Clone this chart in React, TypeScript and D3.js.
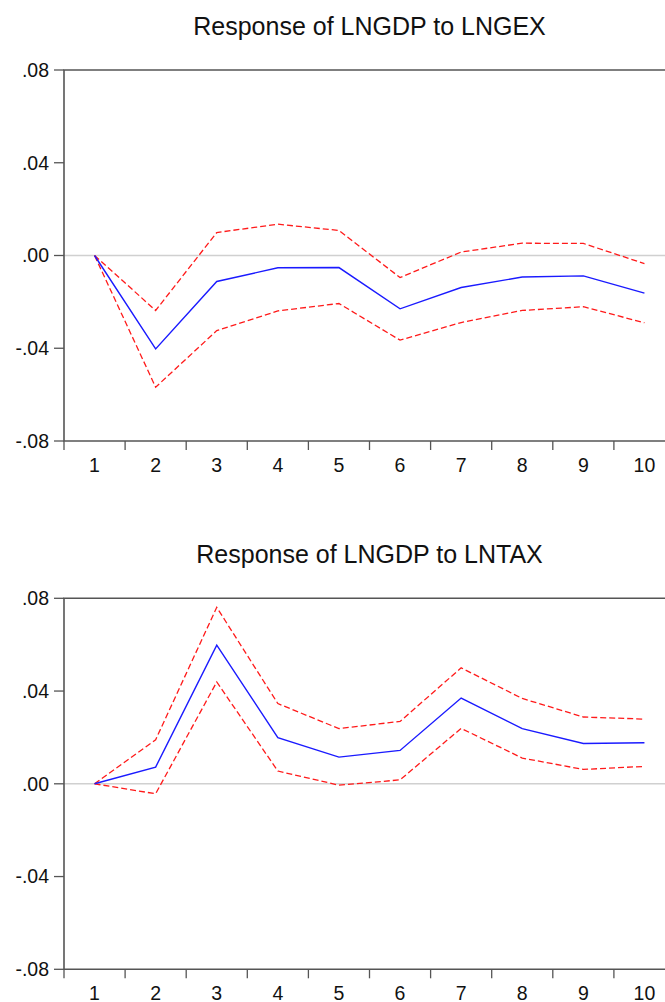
import React, { useEffect, useRef } from "react";
import * as d3 from "d3";

const periods = ["1", "2", "3", "4", "5", "6", "7", "8", "9", "10"];

// Response of LNGDP to LNGEX
const gexResponse = [0, -0.0403, -0.0112, -0.0053, -0.0052, -0.023, -0.0138, -0.0093, -0.0088, -0.0162];
const gexUpper = [0, -0.0237, 0.0099, 0.0135, 0.0108, -0.0095, 0.0015, 0.0053, 0.0052, -0.0035];
const gexLower = [0, -0.0568, -0.0324, -0.0239, -0.0207, -0.0365, -0.0289, -0.0237, -0.0221, -0.029];

// Response of LNGDP to LNTAX
const taxResponse = [0, 0.0072, 0.0598, 0.0199, 0.0115, 0.0144, 0.037, 0.0238, 0.0174, 0.0177];
const taxUpper = [0, 0.019, 0.0761, 0.0346, 0.0238, 0.0269, 0.05, 0.0368, 0.0288, 0.0279];
const taxLower = [0, -0.0043, 0.0439, 0.0055, -0.0006, 0.0017, 0.0239, 0.0111, 0.0062, 0.0075];

const yTicks = [-0.08, -0.04, 0, 0.04, 0.08];
const yTickLabels = ["-.08", "-.04", ".00", ".04", ".08"];

const titles = ["Response of LNGDP to LNGEX", "Response of LNGDP to LNTAX"];

const App = () => {
  const ref = useRef<SVGSVGElement>(null);

  useEffect(() => {
    const svg = d3.select(ref.current);
    svg.selectAll("*").remove();

    const axisColor = "#555";
    const font = "'Liberation Sans', Arial, sans-serif";

    const panels = [
      { top: 70, title: titles[0], mid: gexResponse, hi: gexUpper, lo: gexLower },
      { top: 598.3, title: titles[1], mid: taxResponse, hi: taxUpper, lo: taxLower },
    ];

    panels.forEach((p) => {
      const bottom = p.top + 371;
      const x = d3.scaleBand().domain(periods).range([64, 675]);
      const y = d3.scaleLinear().domain([-0.08, 0.08]).range([bottom, p.top]);
      const cx = (d: string) => (x(d) as number) + x.bandwidth() / 2;

      const g = svg.append("g");

      // title
      g.append("text")
        .attr("x", 369.5)
        .attr("y", p.top - 35.5)
        .attr("text-anchor", "middle")
        .attr("font-family", font)
        .attr("font-size", 25)
        .attr("fill", "#111")
        .text(p.title);

      // zero line
      g.append("line")
        .attr("x1", 64)
        .attr("x2", 675)
        .attr("y1", y(0))
        .attr("y2", y(0))
        .attr("stroke", "#d0d0d0")
        .attr("stroke-width", 1.5);

      // frame: top, left, bottom
      g.append("path")
        .attr("d", `M675,${p.top}H64V${bottom}H675`)
        .attr("fill", "none")
        .attr("stroke", axisColor)
        .attr("stroke-width", 1.6);

      // y ticks
      yTicks.forEach((t, i) => {
        g.append("line")
          .attr("x1", 54)
          .attr("x2", 64)
          .attr("y1", y(t))
          .attr("y2", y(t))
          .attr("stroke", axisColor)
          .attr("stroke-width", 1.3);
        g.append("text")
          .attr("x", 49)
          .attr("y", y(t))
          .attr("dy", "0.35em")
          .attr("text-anchor", "end")
          .attr("font-family", font)
          .attr("font-size", 19.5)
          .attr("fill", "#111")
          .text(yTickLabels[i]);
      });

      // x ticks at band edges
      periods.forEach((d) => {
        g.append("line")
          .attr("x1", x(d) as number)
          .attr("x2", x(d) as number)
          .attr("y1", bottom)
          .attr("y2", bottom + 9)
          .attr("stroke", axisColor)
          .attr("stroke-width", 1.3);
        g.append("text")
          .attr("x", cx(d))
          .attr("y", bottom + 31)
          .attr("text-anchor", "middle")
          .attr("font-family", font)
          .attr("font-size", 19.5)
          .attr("fill", "#111")
          .text(d);
      });

      const line = d3
        .line<number>()
        .x((_, i) => cx(periods[i]))
        .y((v) => y(v));

      [p.hi, p.lo].forEach((s) => {
        g.append("path")
          .attr("d", line(s))
          .attr("fill", "none")
          .attr("stroke", "#ff1a1a")
          .attr("stroke-width", 1.3)
          .attr("stroke-dasharray", "6,3");
      });

      g.append("path")
        .attr("d", line(p.mid))
        .attr("fill", "none")
        .attr("stroke", "#1a1aff")
        .attr("stroke-width", 1.4);
    });
  }, []);

  return (
    <svg
      ref={ref}
      width={665}
      height={1002}
      style={{ position: "absolute", left: 0, top: 0, background: "#fff" }}
    ></svg>
  );
};

export default App;
